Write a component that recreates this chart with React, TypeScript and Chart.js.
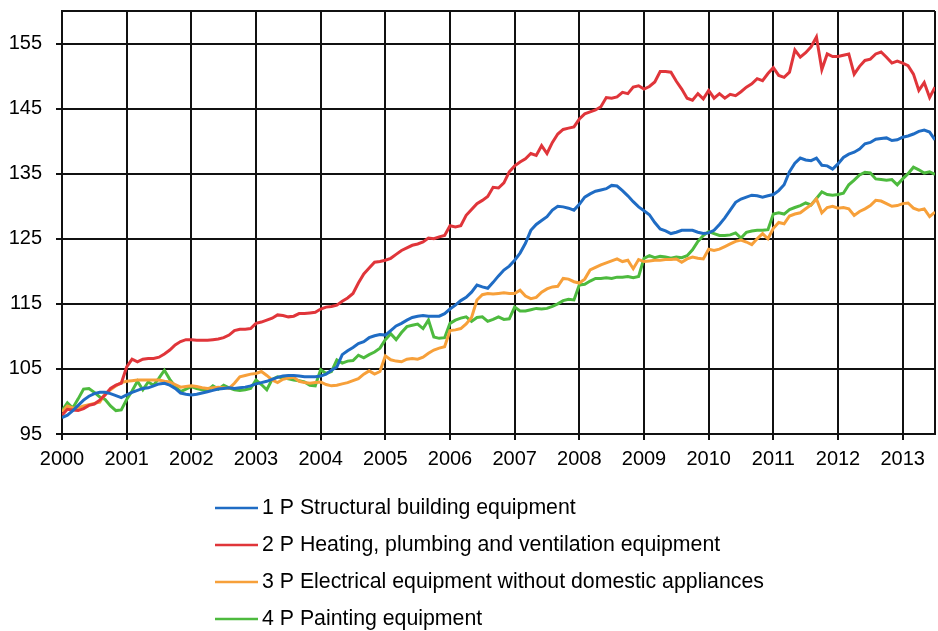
import React, { useEffect, useRef } from "react";
import { Chart, registerables } from "chart.js";

Chart.register(...registerables);

// ---- data (monthly index values, Jan 2000 .. Jul 2013) ----
const START_YEAR = 2000;
const X_MAX = 2013.5;
const YEAR_TICKS = [2000, 2001, 2002, 2003, 2004, 2005, 2006, 2007, 2008, 2009, 2010, 2011, 2012, 2013];
const Y_MIN = 95;
const Y_MAX = 160;
const Y_TICKS = [95, 105, 115, 125, 135, 145, 155];

const SERIES_LABELS = [
  "1 P Structural building equipment",
  "2 P Heating, plumbing and ventilation equipment",
  "3 P Electrical equipment without domestic appliances",
  "4 P Painting equipment",
];

const structural = [
  97.5, 97.9, 98.6, 99.4, 100.2, 100.8, 101.2, 101.4, 101.4, 101.2, 100.9, 100.6,
  101.0, 101.4, 101.7, 102.0, 102.1, 102.4, 102.7, 102.8, 102.5, 102.0, 101.3, 101.1,
  101.0, 101.1, 101.3, 101.5, 101.7, 101.9, 102.0, 102.1, 102.0, 102.1, 102.2, 102.4,
  102.7, 102.9, 103.1, 103.4, 103.7, 103.9, 104.0, 104.0, 103.9, 103.8, 103.8, 103.8,
  103.9, 104.2, 104.8, 105.3, 107.2, 107.8, 108.3, 108.9, 109.2, 109.8, 110.1, 110.3,
  110.2, 110.9, 111.6, 112.0, 112.5, 112.9, 113.1, 113.2, 113.1, 113.1, 113.1, 113.5,
  114.2, 114.8, 115.5, 116.0, 116.8, 117.9, 117.6, 117.4, 118.3, 119.3, 120.2, 120.8,
  121.7, 122.8, 124.3, 126.3, 127.2, 127.8, 128.4, 129.4, 130.0, 129.9, 129.7, 129.4,
  130.3, 131.4, 131.9, 132.3, 132.5, 132.7, 133.2, 133.1, 132.4, 131.6, 130.7, 129.9,
  129.3, 128.7, 127.5, 126.5, 126.2, 125.8, 126.0, 126.3, 126.3, 126.3, 126.0, 125.8,
  125.9, 126.3, 127.2, 128.2, 129.4, 130.6, 131.1, 131.4, 131.7, 131.6, 131.4, 131.6,
  131.8, 132.4, 133.3, 135.3, 136.6, 137.4, 137.1, 137.0, 137.4, 136.3, 136.2, 135.7,
  136.5, 137.5, 138.0, 138.3, 138.8, 139.6, 139.8, 140.3, 140.4, 140.5, 140.1, 140.2,
  140.6, 140.8, 141.1, 141.5, 141.7, 141.4, 140.2,
];

const heating = [
  97.9, 98.8, 98.7, 98.6, 98.9, 99.4, 99.6, 100.2, 101.0, 102.0, 102.5, 102.8,
  105.3, 106.5, 106.1, 106.5, 106.6, 106.6, 106.8, 107.3, 107.9, 108.7, 109.2, 109.5,
  109.5, 109.4, 109.4, 109.4, 109.5, 109.6, 109.8, 110.2, 110.9, 111.1, 111.1, 111.2,
  112.0, 112.2, 112.5, 112.8, 113.3, 113.2, 113.0, 113.1, 113.5, 113.5, 113.6, 113.7,
  114.2, 114.5, 114.6, 114.8, 115.4, 115.9, 116.6, 118.2, 119.6, 120.5, 121.4, 121.5,
  121.7, 122.0, 122.6, 123.2, 123.6, 124.0, 124.2, 124.5, 125.1, 125.0, 125.3, 125.5,
  127.0, 126.8, 127.0, 128.6, 129.5, 130.4, 130.9, 131.5, 132.9, 132.8, 133.6, 135.3,
  136.2, 136.8, 137.3, 138.1, 137.8, 139.3, 138.1, 139.8, 141.1, 141.8, 142.0, 142.2,
  143.4, 144.2, 144.5, 144.8, 145.3, 146.7, 146.6, 146.8, 147.5, 147.3, 148.3, 148.5,
  148.0, 148.4, 149.1, 150.7, 150.7, 150.6, 149.2, 148.0, 146.6, 146.3, 147.3, 146.5,
  147.8, 146.6, 147.3, 146.6, 147.2, 147.0, 147.6, 148.3, 148.8, 149.6, 149.3, 150.4,
  151.3, 150.1, 149.8, 150.6, 154.0, 152.9, 153.6, 154.5, 156.0, 151.0, 153.4, 153.0,
  153.0, 153.2, 153.4, 150.3, 151.5, 152.4, 152.6, 153.4, 153.7, 152.9, 152.0, 152.3,
  152.0, 151.6, 150.3, 147.8, 149.0, 146.7, 148.3,
];

const electrical = [
  98.4, 99.3, 99.0, 99.0, 99.3, 99.5, 99.7, 99.9, 101.2, 101.8, 102.4, 102.9,
  103.1, 103.2, 103.3, 103.3, 103.3, 103.3, 103.3, 103.1, 103.0, 102.6, 102.2, 102.3,
  102.4, 102.3, 102.1, 102.0, 102.1, 102.2, 102.1, 102.0, 102.8, 103.8, 104.0, 104.2,
  104.3, 104.6, 104.0, 103.3, 102.9, 103.4, 103.6, 103.7, 103.1, 102.9, 102.8, 102.9,
  103.0, 102.6, 102.4, 102.5, 102.7, 102.9, 103.2, 103.5, 104.2, 104.7, 104.2, 104.6,
  107.0, 106.4, 106.2, 106.1, 106.5, 106.6, 106.5, 106.8, 107.4, 107.9, 108.2, 108.4,
  110.9, 111.0, 111.2, 111.9, 112.9, 115.6, 116.4, 116.6, 116.5, 116.6, 116.7, 116.6,
  116.6, 117.1, 116.2, 115.8, 116.0, 116.8, 117.3, 117.6, 117.7, 118.9, 118.8, 118.4,
  118.2, 118.8, 120.2, 120.6, 121.0, 121.3, 121.6, 121.9, 121.5, 121.7, 120.4, 121.8,
  121.5, 121.6, 121.7, 121.7, 121.8, 121.8, 121.9, 121.4, 121.9, 122.2, 122.0, 121.9,
  123.4, 123.2, 123.4, 123.8, 124.2, 124.6, 124.8, 124.5, 124.1, 125.0, 125.8, 125.0,
  126.6, 127.5, 127.3, 128.5, 128.8, 129.0, 129.6, 130.2, 131.1, 129.0, 129.8, 130.0,
  129.7, 129.8, 129.6, 128.6, 129.2, 129.6, 130.1, 130.9, 130.8, 130.4, 130.0, 130.1,
  130.4, 130.5, 129.7, 129.4, 129.6, 128.4, 129.1,
];

const painting = [
  98.6, 99.8, 99.0, 100.4, 101.9, 102.0, 101.4, 100.7, 100.3, 99.3, 98.6, 98.7,
  100.3, 101.6, 103.1, 101.8, 103.0, 102.5, 103.6, 104.8, 103.4, 102.3, 101.5, 101.9,
  102.3, 102.0, 101.8, 101.7, 102.4, 101.9, 102.5, 102.1, 101.8, 101.7, 101.8, 102.0,
  103.3, 102.6, 101.8, 103.4, 103.8, 103.6, 103.5, 103.3, 103.2, 103.0, 102.5, 102.4,
  104.9, 104.3, 104.6, 106.4, 105.9, 106.2, 106.3, 107.1, 106.7, 107.2, 107.6, 108.2,
  109.5, 110.4, 109.5, 110.6, 111.5, 111.7, 111.9, 111.2, 112.5, 109.9, 109.7, 109.8,
  112.0, 112.5, 112.8, 113.0, 112.3, 112.9, 113.0, 112.3, 112.6, 113.0, 112.6, 112.7,
  114.5, 113.9, 113.9, 114.1, 114.3, 114.2, 114.3, 114.6, 115.0, 115.5, 115.7, 115.6,
  117.9, 118.0, 118.5, 118.9, 118.9, 119.0, 118.9, 119.1, 119.1, 119.2, 119.0, 119.2,
  122.0, 122.4, 122.1, 122.3, 122.2, 122.0, 122.2, 122.1, 122.4, 123.3, 124.6, 125.5,
  126.1, 125.8, 125.5, 125.5, 125.6, 125.9, 125.1, 126.0, 126.2, 126.3, 126.3, 126.4,
  128.8, 129.0, 128.8, 129.5, 129.8, 130.1, 130.5, 130.2, 131.2, 132.2, 131.8, 131.7,
  131.8, 132.0, 133.3, 134.0, 134.8, 135.2, 135.1, 134.2, 134.1, 134.0, 134.1, 133.3,
  134.2, 135.0, 136.0, 135.6, 135.1, 135.3, 134.9,
];

const SERIES_VALUES = [structural, heating, electrical, painting];
const SERIES_COLORS = ["#1f6cc4", "#e0353a", "#f7a03a", "#4dba3e"];

// ---- styling / layout ----
const W = 938;
const H = 631;
const FONT = "'Liberation Sans', Arial, sans-serif";
const TICK_FONT_SIZE = 20;
const LEGEND_FONT_SIZE = 21.3;
const LEGEND_X = 215;
const LEGEND_Y0 = 508;
const LEGEND_STEP = 37;
const LEGEND_LINE = 43;

const toPoints = (vals: number[]) => vals.map((v, i) => ({ x: START_YEAR + i / 12, y: v }));

const listLegend = {
  id: "listLegend",
  afterDraw(chart: any) {
    const ctx = chart.ctx;
    ctx.save();
    chart.data.datasets.forEach((ds: any, i: number) => {
      const y = LEGEND_Y0 + i * LEGEND_STEP;
      ctx.strokeStyle = ds.borderColor;
      ctx.lineWidth = 2.5;
      ctx.beginPath();
      ctx.moveTo(LEGEND_X, y);
      ctx.lineTo(LEGEND_X + LEGEND_LINE, y);
      ctx.stroke();
      ctx.fillStyle = "#000";
      ctx.font = `${LEGEND_FONT_SIZE}px ${FONT}`;
      ctx.textBaseline = "middle";
      ctx.textAlign = "left";
      ctx.fillText(ds.label, LEGEND_X + LEGEND_LINE + 4, y);
    });
    ctx.restore();
  },
};

export default function App() {
  const ref = useRef<HTMLCanvasElement | null>(null);

  useEffect(() => {
    document.body.style.margin = "0";
    if (!ref.current) return;
    const chart = new Chart(ref.current, {
      type: "line",
      data: {
        datasets: SERIES_VALUES.map((vals, i) => ({
          label: SERIES_LABELS[i],
          data: toPoints(vals),
          borderColor: SERIES_COLORS[i],
          backgroundColor: SERIES_COLORS[i],
          borderWidth: 3,
          pointRadius: 0,
          tension: 0,
          fill: false,
        })),
      },
      options: {
        animation: false,
        responsive: false,
        devicePixelRatio: 1,
        layout: { padding: { left: 0, right: 3, top: 11, bottom: 157 } },
        plugins: { legend: { display: false }, tooltip: { enabled: false } },
        scales: {
          x: {
            type: "linear",
            min: START_YEAR,
            max: X_MAX,
            afterBuildTicks: (scale: any) => {
              scale.ticks = [...YEAR_TICKS, X_MAX].map((v) => ({ value: v }));
            },
            afterFit: (scale: any) => {
              scale.height = 40;
              scale.paddingLeft = 0;
              scale.paddingRight = 0;
            },
            grid: {
              color: "#111",
              lineWidth: 2,
              tickLength: 6,
              tickColor: (c: any) => (c.tick && c.tick.value === X_MAX ? "rgba(0,0,0,0)" : "#111"),
            },
            border: { color: "#111", width: 2 },
            ticks: {
              autoSkip: false,
              maxRotation: 0,
              minRotation: 0,
              padding: 7,
              color: "#000",
              font: { family: FONT, size: TICK_FONT_SIZE },
              callback: (v: any) => (Number.isInteger(v) ? String(v) : ""),
            },
          },
          y: {
            type: "linear",
            min: Y_MIN,
            max: Y_MAX,
            afterBuildTicks: (scale: any) => {
              scale.ticks = [...Y_TICKS, Y_MAX].map((v) => ({ value: v }));
            },
            afterFit: (scale: any) => {
              scale.width = 62;
              scale.paddingTop = 0;
              scale.paddingBottom = 0;
            },
            grid: {
              color: "#111",
              lineWidth: 2,
              tickLength: 6,
              tickColor: (c: any) => (c.tick && c.tick.value === Y_MAX ? "rgba(0,0,0,0)" : "#111"),
            },
            border: { color: "#111", width: 2 },
            ticks: {
              padding: 14,
              color: "#000",
              font: { family: FONT, size: TICK_FONT_SIZE },
              callback: (v: any) => (v === Y_MAX ? "" : String(v)),
            },
          },
        },
      },
      plugins: [listLegend],
    });
    return () => chart.destroy();
  }, []);

  return (
    <div style={{ width: W, height: H, background: "#fff" }}>
      <canvas ref={ref} width={W} height={H} style={{ display: "block", width: W, height: H }} />
    </div>
  );
}
